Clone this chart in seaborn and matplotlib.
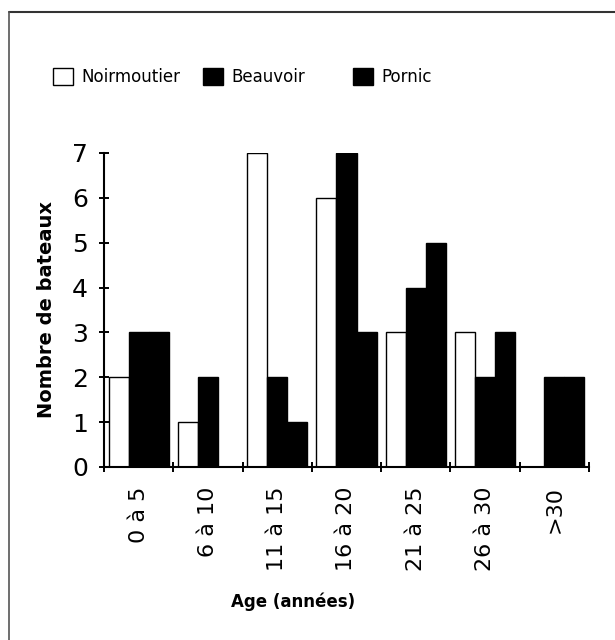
import numpy as np
import pandas as pd
import matplotlib
matplotlib.use("Agg")
import matplotlib.pyplot as plt
import matplotlib.patches as mpatches
from matplotlib.lines import Line2D
import seaborn as sns

# Age classes of the boats and count per harbour
age_classes = ["0 à 5", "6 à 10", "11 à 15", "16 à 20", "21 à 25", "26 à 30", ">30"]
sites = ["Noirmoutier", "Beauvoir", "Pornic"]
noirmoutier = [2, 1, 7, 6, 3, 3, 0]
beauvoir = [3, 2, 2, 7, 4, 2, 2]
pornic = [3, 0, 1, 3, 5, 3, 2]
site_colors = ["white", "black", "black"]

df = pd.DataFrame({
    "age": age_classes * 3,
    "site": [s for s in sites for _ in age_classes],
    "n": noirmoutier + beauvoir + pornic,
})

sns.set_theme(style="white")
plt.rcParams["font.family"] = ["DejaVu Sans"]
plt.rcParams.update({
    "text.color": "black",
    "axes.labelcolor": "black",
    "xtick.color": "black",
    "ytick.color": "black",
})

fig = plt.figure(figsize=(6.15, 6.40), dpi=100)
ax = fig.add_axes([104 / 615, 1 - 467 / 640, 485 / 615, 314 / 640])

sns.barplot(data=df, x="age", y="n", hue="site", order=age_classes,
            hue_order=sites, palette=site_colors, saturation=1,
            edgecolor="black", linewidth=1.0, width=0.87, gap=0,
            legend=False, ax=ax)

ax.set_xlim(-0.5, 6.5)
ax.set_ylim(0, 7)
ax.set_yticks(range(8))
ax.tick_params(axis="y", labelsize=18, direction="inout", length=7, width=1.4,
               pad=8, color="black", left=True)

# category labels centred, tick marks on the class boundaries
ax.set_xticks(range(len(age_classes)), age_classes, rotation=90, fontsize=16)
ax.tick_params(axis="x", which="major", length=0, pad=14)
ax.set_xticks(np.arange(-0.5, len(age_classes), 1), minor=True)
ax.tick_params(axis="x", which="minor", direction="inout", length=7, width=1.4,
               color="black", bottom=True)

for side in ("top", "right"):
    ax.spines[side].set_visible(False)
for side in ("left", "bottom"):
    ax.spines[side].set_color("black")
    ax.spines[side].set_linewidth(1.5)

ax.set_ylabel("Nombre de bateaux", fontsize=14, fontweight="bold")
ax.yaxis.set_label_coords(-0.099, 0.5)
ax.set_xlabel("Age (années)", fontsize=12, fontweight="bold", va="top")
ax.xaxis.set_label_coords(0.39, -0.40)

# legend entries laid out along one row
lefts = [53, 203, 353]
for name, color, x0 in zip(sites, site_colors, lefts):
    h = mpatches.Patch(facecolor=color, edgecolor="black", linewidth=1.0)
    fig.legend([h], [name], loc="center left", bbox_to_anchor=(x0 / 615, 1 - 77 / 640),
               frameon=False, fontsize=12, handlelength=1.2, handleheight=1.2,
               handletextpad=0.5, borderpad=0, borderaxespad=0)

# page frame lines
fig.add_artist(Line2D([9 / 615, 1], [1 - 12 / 640, 1 - 12 / 640],
                      transform=fig.transFigure, color="#333333", linewidth=1.5))
fig.add_artist(Line2D([9 / 615, 9 / 615], [0, 1 - 12 / 640],
                      transform=fig.transFigure, color="#555555", linewidth=1.2))

fig.savefig("out.png", dpi=100)
